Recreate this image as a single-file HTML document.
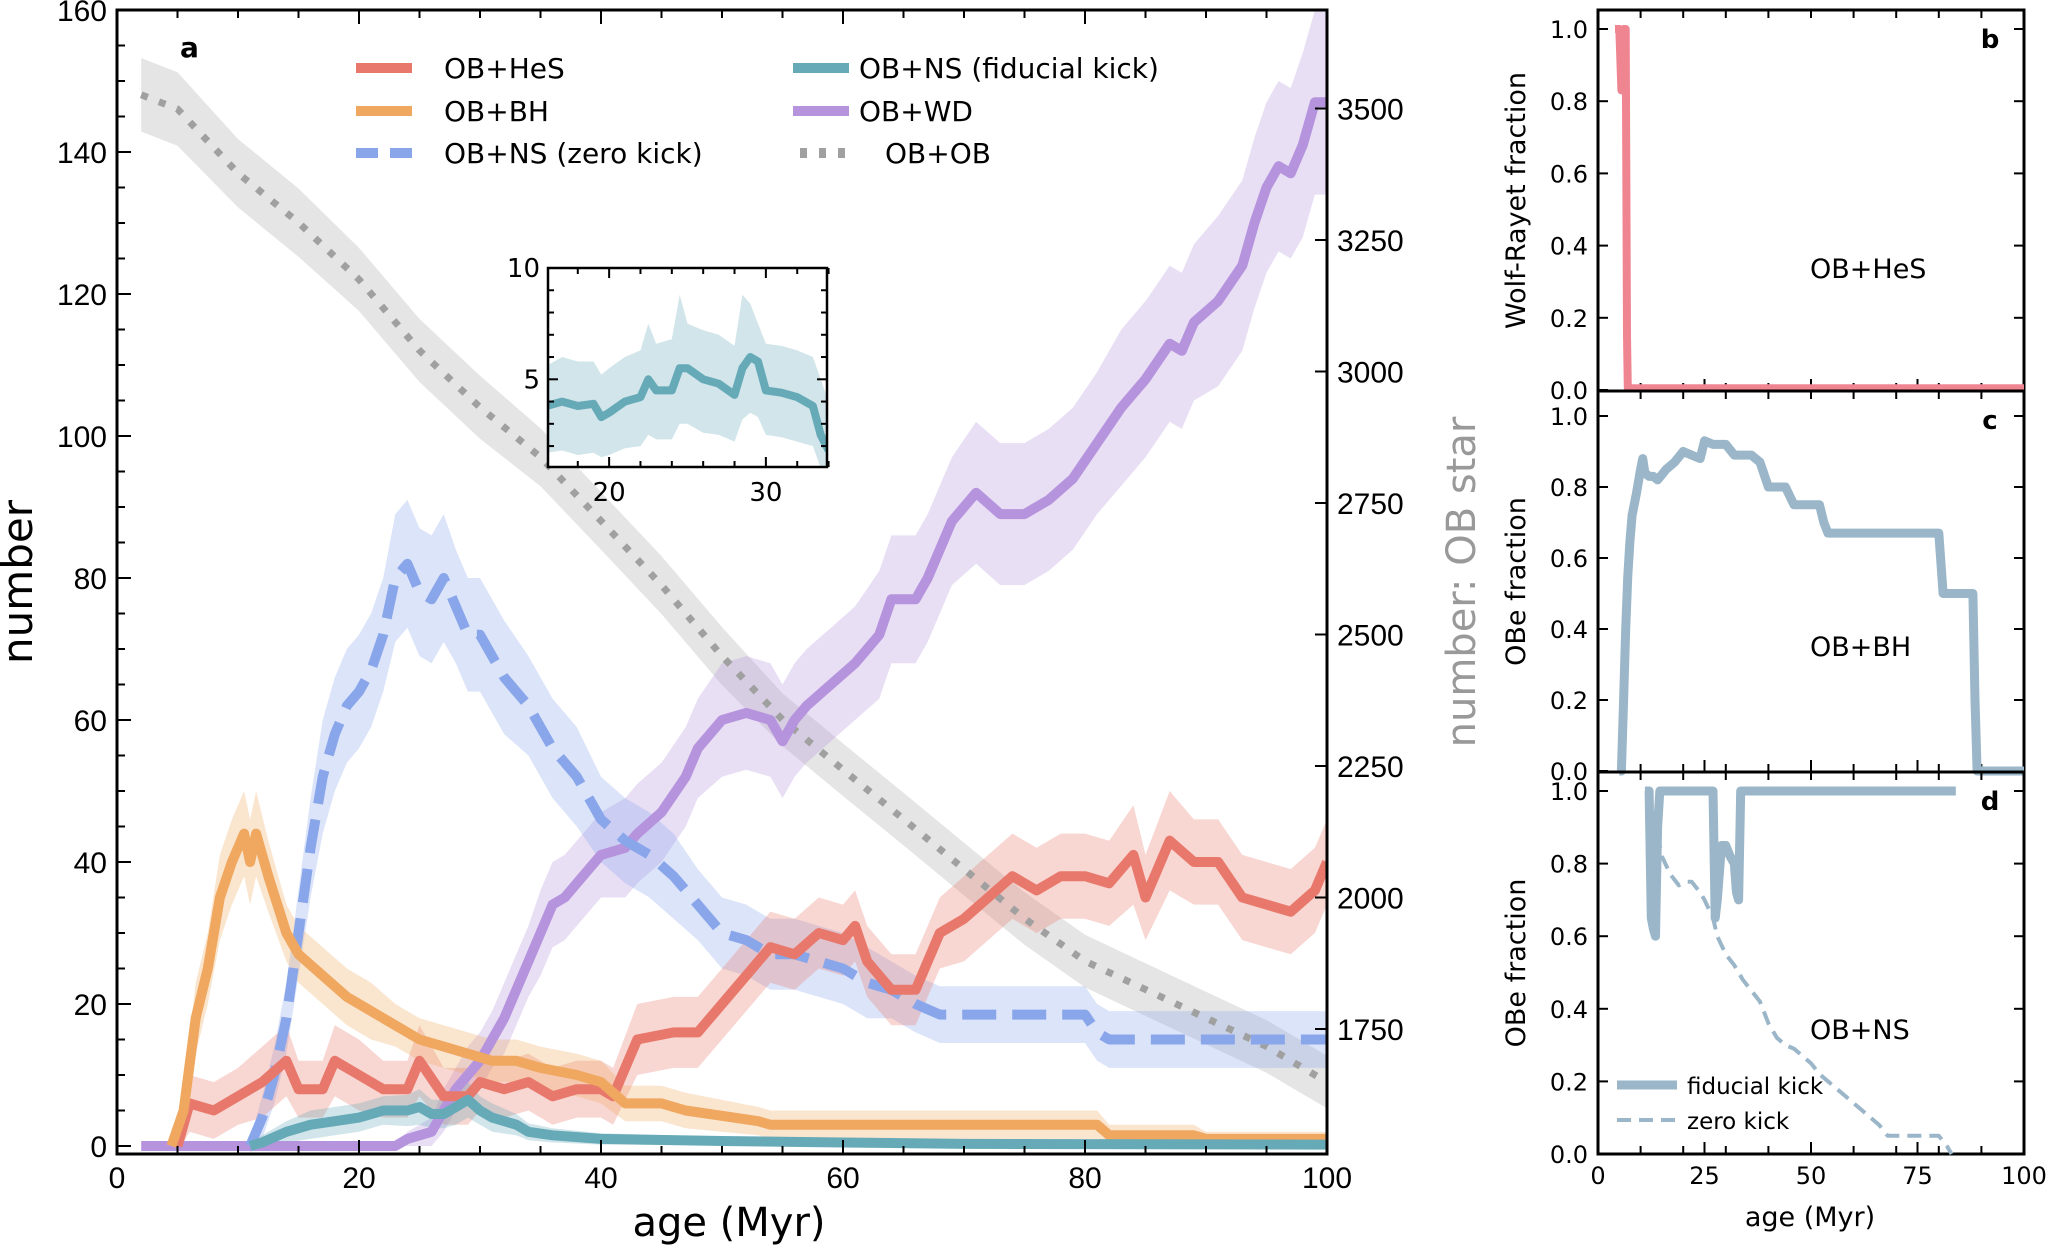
<!DOCTYPE html>
<html><head><meta charset="utf-8"><style>
html,body{margin:0;padding:0;background:#fff}
svg{display:block}
text{font-family:"DejaVu Sans","Liberation Sans",sans-serif}
.tk{font-family:"Liberation Sans",sans-serif;font-size:30px}
</style></head><body>
<svg id="fig" width="2050" height="1245" viewBox="0 0 2050 1245" xmlns="http://www.w3.org/2000/svg">
<g id="gA"></g>
<g id="gB"></g>
<g id="gC"></g>
<g id="gD"></g>
</svg>
<script>
// ---- panel a data ----
const hesAge=[5,6,8,10,12,14,15,17,18,20,22,24,25,27,29,30,32,34,36,38,40,41,43,46,48,50,52,54,56,58,60,61,62,64,66,68,70,72,74,76,78,80,82,84,85,87,89,91,93,95,97,99,100];
const hesVal=[0,6,5,7,9,12,8,8,12,10,8,8,12,7,7,9,8,9,7,8,8,7,15,16,16,20,24,28,27,30,29,31,26,22,22,30,32,35,38,36,38,38,37,41,35,43,40,40,35,34,33,36,40];
const hesErr=[1,4,4,4,5,5,4,4,5,5,4,4,5,4,4,4,4,4,4,4,4,4,5,5,5,5,5,5,5,5,5,5,5,5,5,5,6,6,6,6,6,6,6,7,6,7,6,6,6,6,6,6,6];
const bhAge=[4.5,5.5,6.5,7.5,8.5,9.5,10.5,11,11.5,12.5,14,15,17,19,21,23,25,27,29,31,33,35,38,40,42,45,47,53,54,81,82,89,90,100];
const bhVal=[0,5,18,25,35,40,44,40,44,38,30,27,24,21,19,17,15,14,13,12,12,11,10,9,6,6,5,3.5,3,3,1.5,1.5,1,1];
const bhErr=[0.5,3,5,5,6,6,6,6,6,5,4,4,4,4,4,3,3,3,3,3,3,3,3,3,2.5,2.5,2.5,2,2,2,1.5,1.5,1,1];
const nszAge=[11,12,13,14,15,16,17,18,19,20,21,22,23,24,25,26,27,28,29,30,32,34,36,38,40,42,44,46,48,50,52,54,56,58,60,62,64,66,68,70,75,80,81,82,100];
const nszVal=[0,4,10,18,30,42,52,58,62,64,67,72,80,82,78,77,80,76,72,72,66,62,56,52,46,43,41,38,34,30,29,27,27,26,25,23,22,20,18.5,18.5,18.5,18.5,16,15,15];
const nszErr=[1,3,4,5,6,7,8,8,8,8,8,8,9,9,9,9,9,8,8,8,8,7,7,7,6,6,6,6,5,5,5,5,5,5,5,5,4,4,4,4,4,4,4,4,4];
const nsfAge=[11,12,14,16,18,20,22,24,25,26,27,28,29,30,31,33,34,36,40,50,60,70,100];
const nsfVal=[0,0.5,2,3,3.5,4,5,5,5.5,4.5,4.5,5.5,6.5,5,4,3,2,1.5,1,0.7,0.5,0.3,0.2];
const nsfErr=[0.3,1,1.5,2,2,2,2,2.2,2.5,2,2,2.5,2.5,2,2,1.5,1.2,1,0.8,0.6,0.5,0.4,0.3];
const wdAge=[2,23,24,26,27,28,29,30,31,32,33,34,35,36,37,38,40,42,43,45,47,48,50,52,54,55,56,57,59,61,63,64,66,67,69,71,73,75,77,79,81,83,85,87,88,89,91,93,94,95,96,97,98,99,100];
const wdVal=[0,0,1,2,5,8,10,12,15,18,22,26,30,34,35,37,41,42,44,47,52,56,60,61,60,57,60,62,65,68,72,77,77,80,88,92,89,89,91,94,99,104,108,113,112,116,119,124,130,135,138,137,141,147,147];
const wdErr=[0,0,1,2,3,3,4,4,4,5,5,5,6,6,6,6,6,7,7,7,7,7,8,8,8,8,8,8,8,8,9,9,9,9,9,10,10,10,10,10,10,11,11,11,11,11,12,12,12,12,12,12,13,13,13];
const obAge=[2,5,10,15,20,25,30,35,40,45,50,55,60,65,70,75,80,85,90,95,100];
const obVal=[3526,3499,3377,3283,3175,3040,2932,2837,2716,2594,2459,2338,2243,2149,2054,1960,1879,1825,1771,1717,1649];
const obErr=[70,70,65,65,60,60,60,55,55,55,55,50,50,50,50,50,50,50,50,50,50];
const xTicksA=[0,20,40,60,80,100];
const yTicksA=[0,20,40,60,80,100,120,140,160];
const yTicksR=[1750,2000,2250,2500,2750,3000,3250,3500];
// inset
const insAge=[16,17,18,19,19.5,20,21,22,22.5,23,24,24.5,25,26,27,28,28.5,29,29.5,30,31,32,33,33.5,34];
const insVal=[3.8,4,3.8,3.9,3.3,3.5,4,4.2,5,4.5,4.5,5.5,5.5,5,4.8,4.3,5.5,6,5.8,4.5,4.4,4.2,3.8,2.5,1.8];
const insLo=[1.7,1.8,1.6,1.7,1.5,1.6,1.9,2,2.5,2.3,2.3,3,3,2.6,2.5,2.2,3.2,3.5,3.3,2.5,2.4,2.2,2,1,0.9];
const insHi=[5.6,6,5.8,5.8,5.2,5.5,6,6.3,7.5,6.6,6.8,8.8,7.5,7.2,7,6.5,8.8,8.4,7.5,6.6,6.5,6.3,6,5,4];
const insXT=[20,30];
const insYT=[5,10];
// ---- panels b,c,d data ----
const wrAge=[4,5,5.5,6,6.5,6.8,7,100];
const wrVal=[1,1,0.83,1,1,0.15,0.005,0.005];
const bhFAge=[5,5.5,6,6.5,7,7.5,8,9,10,10.5,11,12,13,14,16,18,20,22,24,25,27,30,32,34,36,38,40,44,46,48,50,52,53,54,80,81,88,88.5,89,100];
const bhFVal=[0,0,0.2,0.4,0.55,0.65,0.72,0.78,0.85,0.88,0.84,0.83,0.83,0.82,0.85,0.87,0.9,0.89,0.88,0.93,0.92,0.92,0.89,0.89,0.89,0.87,0.8,0.8,0.75,0.75,0.75,0.75,0.7,0.67,0.67,0.5,0.5,0.2,0,0];
const fidAge=[11,12,12.5,13,13.5,14,14.5,15,27,27.5,28,29,30,31,32,32.5,33,33.5,84];
const fidVal=[1,1,0.65,0.62,0.6,0.9,1,1,1,0.65,0.7,0.85,0.85,0.82,0.8,0.72,0.7,1,1];
const zkAge=[12,13,14,15,17,19,21,22,24,25,27,28,30,32,34,36,38,40,42,44,46,48,50,52,54,56,58,60,62,64,66,68,70,72,74,80,82,83];
const zkVal=[1,0.93,0.88,0.82,0.77,0.74,0.75,0.75,0.72,0.7,0.65,0.6,0.55,0.52,0.48,0.45,0.42,0.36,0.32,0.3,0.29,0.27,0.25,0.22,0.2,0.18,0.16,0.14,0.12,0.1,0.08,0.05,0.05,0.05,0.05,0.05,0.02,0];
const fracTicks=[0,0.2,0.4,0.6,0.8,1.0];
const ageTicksR=[0,25,50,75,100];

const NS='http://www.w3.org/2000/svg';
function mk(p,tag,at,txt){const e=document.createElementNS(NS,tag);for(const k in at)e.setAttribute(k,at[k]);if(txt!==undefined)e.textContent=txt;p.appendChild(e);return e;}
const gA=document.getElementById('gA'),gB=document.getElementById('gB'),gC=document.getElementById('gC'),gD=document.getElementById('gD');

const AX={l:117,r:1327,t:10,b:1154};
const xA=a=>AX.l+(a/100)*(AX.r-AX.l);
const yA=n=>1146-7.1*n;
const yR=v=>1029-(v-1750)*131.5/250;
function pts(ages,vals,fx,fy){return ages.map((a,i)=>fx(a).toFixed(1)+','+fy(vals[i]).toFixed(1)).join(' ');}
function band(g,ages,vals,errs,fx,fy,col,op,name){
  const up=ages.map((a,i)=>fx(a).toFixed(1)+','+fy(vals[i]+errs[i]).toFixed(1));
  const lo=ages.map((a,i)=>fx(a).toFixed(1)+','+fy(Math.max(vals[i]-errs[i],-1)).toFixed(1)).reverse();
  const e=mk(g,'polygon',{points:up.concat(lo).join(' '),fill:col,'fill-opacity':op,stroke:'none'});
  
  
}
function line(g,ages,vals,fx,fy,col,w,dash,name){
  const at={points:pts(ages,vals,fx,fy),fill:'none',stroke:col,'stroke-width':w,'stroke-linejoin':'round'};
  if(dash)at['stroke-dasharray']=dash;
  const e=mk(g,'polyline',at);
  
  
}
const cl=mk(gA,'clipPath',{id:'cpA'});mk(cl,'rect',{x:AX.l,y:AX.t,width:AX.r-AX.l,height:AX.b-AX.t});
const gp=mk(gA,'g',{'clip-path':'url(#cpA)'});
band(gp,obAge,obVal,obErr,xA,yR,'#bdbdbd',0.4,'ob-ob-band');
band(gp,wdAge,wdVal,wdErr,xA,yA,'#b694dd',0.3,'wd-band');
band(gp,nszAge,nszVal,nszErr,xA,yA,'#8aa6ea',0.3,'ns-zero-band');
band(gp,hesAge,hesVal,hesErr,xA,yA,'#e8786b',0.3,'hes-band');
band(gp,bhAge,bhVal,bhErr,xA,yA,'#f0a860',0.3,'bh-band');
band(gp,nsfAge,nsfVal,nsfErr,xA,yA,'#66aab8',0.3,'ns-fid-band');
line(gp,obAge,obVal,xA,yR,'#a0a0a0',7,'7,12','ob-ob-line');
line(gp,wdAge,wdVal,xA,yA,'#b694dd',10,null,'wd-line');
line(gp,nszAge,nszVal,xA,yA,'#8aa6ea',10,'34,16','ns-zero-line');
line(gp,hesAge,hesVal,xA,yA,'#e8786b',10,null,'hes-line');
line(gp,bhAge,bhVal,xA,yA,'#f0a860',10,null,'bh-line');
line(gp,nsfAge,nsfVal,xA,yA,'#66aab8',10,null,'ns-fid-line');
mk(gA,'rect',{x:AX.l,y:AX.t,width:AX.r-AX.l,height:AX.b-AX.t,fill:'none',stroke:'#000','stroke-width':3});
for(let v=0;v<=100;v+=5){const x=xA(v),M=v%20===0,L=M?14:8;
  mk(gA,'line',{x1:x,y1:AX.b,x2:x,y2:AX.b-L,stroke:'#000','stroke-width':2});
  mk(gA,'line',{x1:x,y1:AX.t,x2:x,y2:AX.t+L,stroke:'#000','stroke-width':2});}
xTicksA.forEach(v=>{const t=mk(gA,'text',{x:xA(v),y:1188,'text-anchor':'middle',class:'tk'},v);});
for(let v=0;v<=160;v+=5){const y=yA(v),L=v%20===0?14:8;if(y<AX.t)continue;mk(gA,'line',{x1:AX.l,y1:y,x2:AX.l+L,y2:y,stroke:'#000','stroke-width':2});}
yTicksA.forEach(v=>{const t=mk(gA,'text',{x:AX.l-10,y:yA(v)+11,'text-anchor':'end',class:'tk'},v);});
yTicksR.forEach(v=>{const y=yR(v);mk(gA,'line',{x1:AX.r,y1:y,x2:AX.r-12,y2:y,stroke:'#000','stroke-width':2});
  const t=mk(gA,'text',{x:AX.r+10,y:y+11,'text-anchor':'start',class:'tk'},v);});
mk(gA,'text',{x:729,y:1236,'text-anchor':'middle','font-size':40,'font-family':'Liberation Sans, sans-serif',},'age (Myr)');
mk(gA,'text',{x:0,y:0,transform:'translate(32,582) rotate(-90)','text-anchor':'middle','font-size':42,'font-family':'Liberation Sans, sans-serif',},'number');
mk(gA,'text',{x:0,y:0,transform:'translate(1475,582) rotate(-90)','text-anchor':'middle','font-size':40,fill:'#999','font-family':'Liberation Sans, sans-serif',},'number: OB star');
mk(gA,'text',{x:180,y:57,'font-size':28,'font-weight':'bold',},'a');
const leg=mk(gA,'g',{});
const LG=[[356,68,'#e8786b',null,'OB+HeS',444],[356,111,'#f0a860',null,'OB+BH',444],[356,153,'#8aa6ea','22,12','OB+NS (zero kick)',444],
[793,68,'#66aab8',null,'OB+NS (fiducial kick)',859],[793,111,'#b694dd',null,'OB+WD',859],[800,153,'#a0a0a0','7,12','OB+OB',885]];
LG.forEach(d=>{const at={x1:d[0],y1:d[1],x2:d[0]+56,y2:d[1],stroke:d[2],'stroke-width':10};if(d[3])at['stroke-dasharray']=d[3];
  mk(leg,'line',at);const t=mk(leg,'text',{x:d[5],y:d[1]+10,'font-size':28},d[4]);});
const IN={l:548,r:827,t:268,b:467};
const xI=a=>IN.l+(a-16.1)/(33.9-16.1)*(IN.r-IN.l);
const yI=v=>IN.b-(v-1.06)/(10-1.06)*(IN.b-IN.t);
const gi=mk(gA,'g',{});
mk(gi,'rect',{x:IN.l,y:IN.t,width:IN.r-IN.l,height:IN.b-IN.t,fill:'#fff'});
const ci=mk(gi,'clipPath',{id:'cpI'});mk(ci,'rect',{x:IN.l,y:IN.t,width:IN.r-IN.l,height:IN.b-IN.t});
const gii=mk(gi,'g',{'clip-path':'url(#cpI)'});
const up=insAge.map((a,i)=>xI(a).toFixed(1)+','+yI(insHi[i]).toFixed(1));
const lo=insAge.map((a,i)=>xI(a).toFixed(1)+','+yI(insLo[i]).toFixed(1)).reverse();
const ib=mk(gii,'polygon',{points:up.concat(lo).join(' '),fill:'#66aab8','fill-opacity':0.3});


line(gii,insAge,insVal,xI,yI,'#66aab8',8,null,'inset-line');
mk(gi,'rect',{x:IN.l,y:IN.t,width:IN.r-IN.l,height:IN.b-IN.t,fill:'none',stroke:'#000','stroke-width':2.5});
for(let v=18;v<=34;v+=2){const x=xI(v),L=v%10===0?10:6;mk(gi,'line',{x1:x,y1:IN.b,x2:x,y2:IN.b-L,stroke:'#000','stroke-width':2});mk(gi,'line',{x1:x,y1:IN.t,x2:x,y2:IN.t+L,stroke:'#000','stroke-width':2});}
for(let v=2;v<=10;v++){const y=yI(v),L=v%5===0?10:6;mk(gi,'line',{x1:IN.l,y1:y,x2:IN.l+L,y2:y,stroke:'#000','stroke-width':2});mk(gi,'line',{x1:IN.r,y1:y,x2:IN.r-L,y2:y,stroke:'#000','stroke-width':2});}
insXT.forEach(v=>mk(gi,'text',{x:xI(v),y:IN.b+34,'text-anchor':'middle','font-size':26},v));
insYT.forEach(v=>mk(gi,'text',{x:IN.l-8,y:yI(v)+9,'text-anchor':'end','font-size':26},v));

const RX={l:1598,r:2024};
const xR=a=>RX.l+a/100*(RX.r-RX.l);
function panel(g,top,bot,y0,y1,lab,ylab,txt,txtY,showX){
  const fy=f=>y0-(y0-y1)*f;
  mk(g,'rect',{x:RX.l,y:top,width:RX.r-RX.l,height:bot-top,fill:'none',stroke:'#000','stroke-width':3});
  fracTicks.forEach(f=>{const y=fy(f);mk(g,'line',{x1:RX.l,y1:y,x2:RX.l+10,y2:y,stroke:'#000','stroke-width':2});mk(g,'line',{x1:RX.r,y1:y,x2:RX.r-10,y2:y,stroke:'#000','stroke-width':2});
    const t=mk(g,'text',{x:RX.l-10,y:y+9,'text-anchor':'end','font-size':24},f.toFixed(1));});
  for(let a=10;a<100;a+=10){const x=xR(a);mk(g,'line',{x1:x,y1:bot,x2:x,y2:bot-8,stroke:'#000','stroke-width':2});mk(g,'line',{x1:x,y1:top,x2:x,y2:top+8,stroke:'#000','stroke-width':2});}
  ageTicksR.forEach(a=>{const x=xR(a);mk(g,'line',{x1:x,y1:bot,x2:x,y2:bot-12,stroke:'#000','stroke-width':2});});
  if(showX)ageTicksR.forEach(a=>{const t=mk(g,'text',{x:xR(a),y:bot+30,'text-anchor':'middle','font-size':24},a);});
  mk(g,'text',{x:1990,y:top+38,'font-size':26,'font-weight':'bold','text-anchor':'middle'},lab);
  mk(g,'text',{x:0,y:0,transform:'translate(1525,'+((top+bot)/2)+') rotate(-90)','text-anchor':'middle','font-size':27,'font-family':'Liberation Sans, sans-serif'},ylab);
  mk(g,'text',{x:1810,y:txtY,'font-size':27},txt);
  return fy;
}
const yB=panel(gB,10,391,390,29,'b','Wolf-Rayet fraction','OB+HeS',278,false);
line(gB,wrAge,wrVal,xR,yB,'#f08592',8,null,'wr-fraction-line');
const yC=panel(gC,391,772,771,416,'c','OBe fraction','OB+BH',656,false);
line(gC,bhFAge,bhFVal,xR,yC,'#9ab6c8',9,null,'obe-bh-line');
const yD=panel(gD,772,1154,1154,791,'d','OBe fraction','OB+NS',1039,true);
line(gD,zkAge,zkVal,xR,yD,'#9ab6c8',4,'14,8','obe-ns-zero-line');
line(gD,fidAge,fidVal,xR,yD,'#9ab6c8',9,null,'obe-ns-fid-line');
mk(gD,'text',{x:1810,y:1226,'text-anchor':'middle','font-size':27,},'age (Myr)');
const ld=mk(gD,'g',{});
mk(ld,'line',{x1:1617,y1:1085,x2:1677,y2:1085,stroke:'#9ab6c8','stroke-width':9});
mk(ld,'text',{x:1687,y:1094,'font-size':23},'fiducial kick');
mk(ld,'line',{x1:1617,y1:1120,x2:1677,y2:1120,stroke:'#9ab6c8','stroke-width':4,'stroke-dasharray':'14,8'});
mk(ld,'text',{x:1687,y:1129,'font-size':23},'zero kick');
</script>
</body></html>
